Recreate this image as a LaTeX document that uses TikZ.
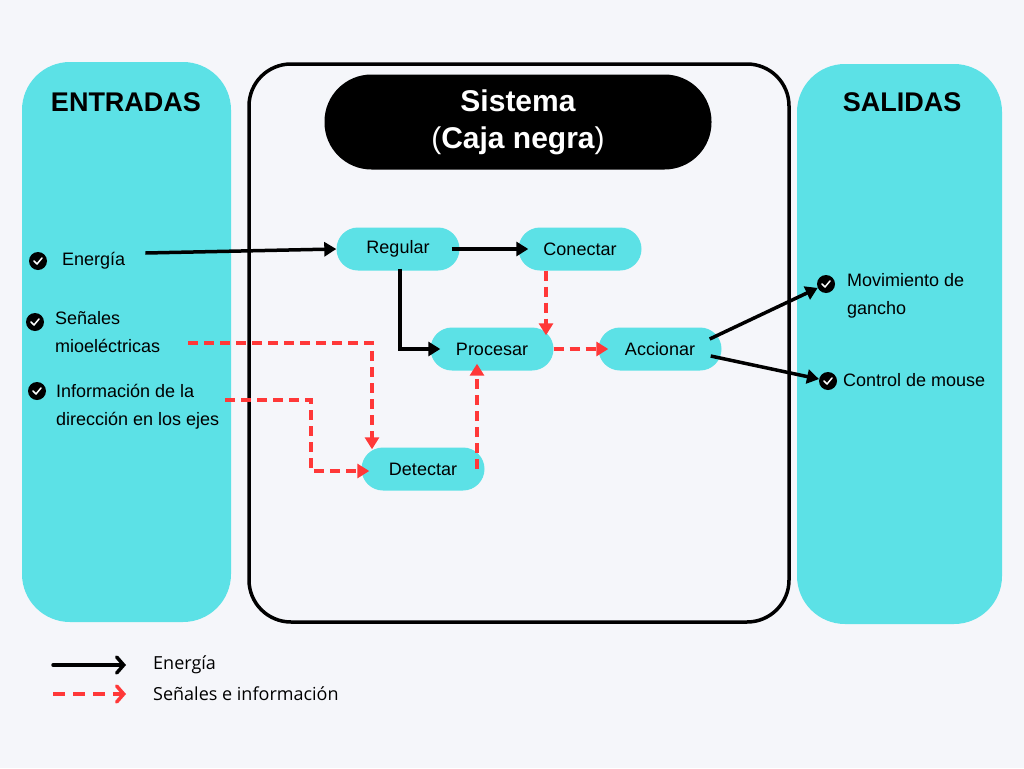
\documentclass[tikz,border=0pt]{standalone}
\usepackage{fontspec}
\setmainfont{Liberation Sans}
\newfontfamily\legendfont{Open Sans}
\usepackage{tikz}
\usetikzlibrary{arrows.meta}
\definecolor{bgwhite}{RGB}{245 246 250}
\definecolor{boxcyan}{RGB}{92 225 230}
\definecolor{signalred}{RGB}{255 56 56}
\newcommand{\procfont}{\fontsize{18}{22}\selectfont}
\newcommand{\itemfont}{\fontsize{18}{28}\selectfont}
\tikzstyle{header} = [font=\fontsize{27}{32}\selectfont\bfseries, text=black]
\tikzstyle{blackbox} = [rectangle, rounded corners=47pt, minimum width=387pt, minimum height=95pt, fill=black, text=white, align=center, font=\fontsize{30}{37}\selectfont\bfseries]
\tikzstyle{proc} = [rectangle, rounded corners=21.5pt, minimum width=123pt, minimum height=43pt, fill=boxcyan, font=\procfont, text centered]
\tikzstyle{item} = [anchor=west, inner sep=0pt, align=left, font=\itemfont]
\tikzstyle{check} = [circle, fill=black, minimum size=18pt, inner sep=0pt,
  path picture={\draw [white, line width=1.5pt, line cap=round, line join=round] ([xshift=-4pt]path picture bounding box.center) -- ++(3,3) -- ++(5,-6);}]
\tikzstyle{legend} = [anchor=west, inner sep=0pt, font=\legendfont\fontsize{18}{22}\selectfont]
\tikzstyle{arrow} = [line width=3.5pt, -{Triangle[length=12pt,width=14pt]}]
\tikzstyle{sarrow} = [line width=3.5pt, signalred, dash pattern=on 10pt off 6pt, -{Triangle[length=12pt,width=14pt]}]
\tikzstyle{legarrow} = [line width=3.5pt, line cap=round, -{Straight Barb[length=7pt,width=16pt,line cap=round]}]
\tikzstyle{legsarrow} = [legarrow, signalred, dash pattern=on 12pt off 8pt, line cap=butt]

\begin{document}
\begin{tikzpicture}[x=1pt, y=-1pt, node distance=182pt]
        \fill [bgwhite] (0,0) rectangle (1024,768);
        \useasboundingbox (0,0) rectangle (1024,768);
        % columns and black box frame
        \fill [boxcyan, rounded corners=48] (22,62) rectangle (231,622);
        \fill [boxcyan, rounded corners=48] (797,64) rectangle (1002,624);
        \draw [line width=3.5pt, rounded corners=42] (249,64) rectangle (789,622);
        \node (entradas) [header] at (126,102) {ENTRADAS};
        \node (salidas) [header] at (902,102) {SALIDAS};
        \node (sistema) [blackbox] at (518,122) {Sistema\\\mdseries(\bfseries Caja negra\mdseries)};
        % inputs
        \node (chkenergia) [check] at (38,261) {};
        \node (energia) [item] at (62,261) {Energía};
        \node (chksenales) [check] at (35,322) {};
        \node (senales) [item] at (55,332) {Señales\\mioeléctricas};
        \node (chkinfo) [check] at (37,391) {};
        \node (info) [item] at (56,407) {Información de la\\dirección en los ejes};
        \coordinate (senalesout) at (188,343);
        \coordinate (infoout) at (225,400);
        % outputs
        \node (chkmov) [check] at (826,284) {};
        \node (movimiento) [item] at (847,296) {Movimiento de\\gancho};
        \node (chkcontrol) [check] at (828,381) {};
        \node (control) [item] at (843,380) {Control de mouse};
        % processes
        \node (regular) [proc] at (398,249) {Regular};
        \node (conectar) [proc, right of=regular] {Conectar};
        \node (procesar) [proc] at (492,349) {Procesar};
        \node (accionar) [proc, right of=procesar, node distance=168pt] {Accionar};
        \node (detectar) [proc] at (423,469) {Detectar};
        % energy
        \draw [arrow] ([shift={(20,-8)}]energia.east) -- (regular.west);
        \draw [arrow] ([xshift=-8pt]regular.east) -- ([xshift=10pt]conectar.west);
        \draw [arrow] ([shift={(2,-2)}]regular.south) |- ([xshift=10pt]procesar.west);
        \draw [arrow] ([shift={(-12,-10)}]accionar.east) -- (chkmov);
        \draw [arrow] ([shift={(-11,7)}]accionar.east) -- (chkcontrol);
        % signals
        \draw [sarrow] ([xshift=-34pt]conectar.south) -- ([shift={(54,8)}]procesar.north);
        \draw [sarrow] (procesar.east) -- ([xshift=10pt]accionar.west);
        \draw [sarrow] (senalesout) -| ([shift={(-51,2)}]detectar.north);
        \draw [sarrow] (infoout) -- ++(86,0) |- ([shift={(8,2)}]detectar.west);
        \draw [sarrow] ([xshift=54pt]detectar.center) -- ([shift={(54,-7)}]detectar.center |- procesar.south);
        % legend
        \node (legenergia) [legend] at (153,665) {Energía};
        \node (legsenal) [legend] at (153,694) {Señales e información};
        \coordinate (legstart1) at (53,665);
        \coordinate (legstart2) at (53,694);
        \draw [legarrow] (legstart1) -- ([xshift=-27pt]legenergia.west);
        \draw [legsarrow] (legstart2) -- ([xshift=-27pt]legsenal.west);
    \end{tikzpicture}
\end{document}
